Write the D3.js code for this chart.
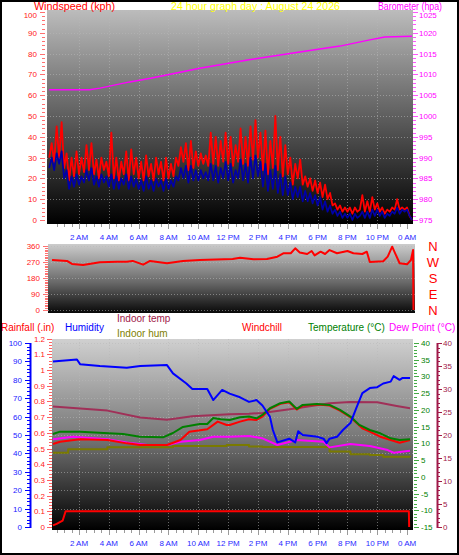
<!DOCTYPE html>
<html><head><meta charset="utf-8">
<script src="https://cdn.jsdelivr.net/npm/d3@7"></script>
<style>body{margin:0;background:#fff}svg{display:block}text{font-family:"Liberation Sans",Arial,sans-serif}</style>
</head><body><svg id="c" width="459" height="555"></svg>
<script>
// ---------- DATA ----------
const timeTickHours = [2,4,6,8,10,12,14,16,18,20,22,24];
const timeTickLabels = ["2 AM","4 AM","6 AM","8 AM","10 AM","12 PM","2 PM","4 PM","6 PM","8 PM","10 PM","0 AM"];

// wind (kph), one value every 10 minutes from midnight
const windGust = [30,37,28,45,30,47,25,32,19,30, 21,33,22,30,23,36,24,37,22,29,
 20,30,24,28,21,42,20,30,19,28, 22,33,19,34,22,30,20,28,19,31,
 21,27,19,30,22,28,19,30,20,27, 21,30,26,35,28,37,24,38,25,33,
 26,32,27,31,26,42,27,40,26,38, 28,42,27,40,26,36,28,44,27,40,
 26,45,29,48,30,42,24,43,22,38, 25,50,24,40,21,36,22,30,17,27,
 20,29,17,21,16,20,14,19,13,18, 11,17,10,13,7,8,5,7,4,6,
 4,6,3,6,4,5,12,4,9,4, 11,5,8,4,6,3,5,4,6,5, 10,5,6,5,6,2,0];
const windAvg = [25,30,24,32,27,33,20,24,15,21, 16,22,17,21,18,24,19,25,17,21,
 16,22,18,21,16,22,15,21,15,20, 17,22,15,21,16,20,15,19,14,21,
 15,19,14,20,16,19,14,20,15,19, 16,21,19,25,20,26,18,26,19,24,
 19,24,20,23,19,27,19,26,18,25, 20,28,19,27,18,24,20,29,19,27,
 18,30,20,31,21,28,16,27,14,24, 15,26,13,22,12,21,12,18,10,16,
 11,16,9,14,9,13,8,12,7,11, 5,9,4,7,3,5,2,4,1,3,
 1,3,0,3,1,2,4,1,4,1, 5,2,5,2,4,1,3,2,4,3, 6,3,5,4,5,2,0];
const windTicks = [0,10,20,30,40,50,60,70,80,90,100];

const baroHours = [0,2.7,3.4,5.4,6.8,10.1,13.4,16.8,19.5,21.5,22.5,24.33];
const baroValues = [1006.3,1006.3,1006.7,1008.2,1009.1,1011.5,1013.5,1015.4,1016.8,1018.3,1019.0,1019.2];
const baroTicks = [975,980,985,990,995,1000,1005,1010,1015,1020,1025];

const dirHours = [0.19,1.19,1.53,2.27,3.4,4.55,5.2,5.6,6.3,6.76,7.9,8.97,10.1,12.3,12.8,13.7,14.6,15.3,15.7,16.2,16.5,16.8,17.3,17.6,17.8,18.2,18.5,18.8,19.3,20.0,20.4,21.0,21.3,21.5,22.4,22.7,23.0,23.2,23.5,24.0,24.26,24.4,24.43];
const dirValues = [281,276,259,253,268,272,272,276,255,276,263,276,281,287,294,285,287,300,319,319,347,324,315,332,307,328,315,337,319,332,319,315,328,270,274,300,356,319,263,257,281,337,0];
const dirTicks = [0,90,180,270,360];
const dirLetters = ["N","E","S","W","N"];

const humHours = [0.25,1.86,2.07,3.4,5.2,6.1,7.9,8.3,9.2,9.6,10.6,11.0,11.6,12.1,12.8,13.4,13.9,14.3,14.8,15.0,15.3,16.1,16.5,16.7,17.0,18.0,18.4,18.6,18.8,19.3,19.7,20.2,20.6,21.0,21.5,22.0,22.4,22.9,23.1,23.5,23.7,24.2];
const humValues = [90,91,88.5,87.5,86.5,87.5,88,83.5,78,75,75,69,74.5,72.5,70.5,68,69,66,60,52.7,46,48,46,52,50,49,48,45.6,48,49,52.7,56.5,64.7,72.8,75.5,76,78,79,82,80,81,81];

const tempHours = [0.25,0.73,2.07,4.95,6.09,7.63,8.3,8.97,10.1,10.6,11.0,11.5,12.1,12.8,13.4,13.9,14.3,14.8,15.5,16.1,16.6,17.0,17.96,18.8,19.5,20.2,20.8,21.5,22.2,22.9,23.5,24.2];
const tempValues = [12.8,13.5,13.5,12.8,12.0,11.8,13.1,14.9,15.8,15.8,17.6,17.2,17.0,17.8,18,17.5,18.5,20.5,22,22.5,20.3,21.5,21.8,21.5,20,18,15.5,14,13,11.5,11,11.2];

const chillHours = [0.25,0.73,2.07,3.9,5.2,6.1,7.9,8.8,9.4,10.6,11.3,11.9,12.1,12.8,13.4,13.9,14.3,14.8,15.5,16.1,16.6,17.0,17.96,18.8,19.5,20.2,20.8,21.0,21.5,22.2,22.9,23.5,24.2];
const chillValues = [9.8,10.5,11.2,11,10,9.5,9.5,11,13.5,14.2,16.5,15.5,15.5,16.5,17.2,17,18,20.3,21.8,22.3,20.1,21.3,21.6,21.3,19.8,17.8,15.3,14.5,13.5,12,11,10.2,11];

const dewHours = [0.25,1.6,3.9,5.6,6.6,7.9,8.8,10.1,11.0,11.9,12.1,13.4,14.3,15.3,16.6,18.4,18.8,20.2,21.5,22.7,23.1,24.2];
const dewValues = [11.2,12,11.2,10,9.5,9.5,10.5,11,12,12,12,12.2,11.5,9.5,11,10.5,8.8,9.8,9.2,8,7.2,7.8];

const inTempHours = [0.25,3.9,6.1,7.9,9.6,12.1,13.4,14.3,16.6,18.8,20.2,22.0,23.3,24.2];
const inTempValues = [26.2,25.3,23.8,23.3,24.1,24.5,24.6,24.8,25.8,26.9,27.2,27.1,26.3,25.8];

const inHumHours = [0.25,1.2,1.27,3.9,6.1,8.3,11.0,11.9,13.4,14.3,16.6,18.8,20.2,21.5,22.4,24.2];
const inHumValues = [40.4,40.4,42.2,43.3,43.3,44,44,44.6,43.8,43.5,43.5,41,39.5,39.1,38.2,38];

const rainHours = [0.25,0.5,0.9,1.1,24.12,24.14];
const rainValues = [0.01,0.02,0.04,0.1,0.1,0];

const humTicks = [0,10,20,30,40,50,60,70,80,90,100];
const rainTicks = [0,0.1,0.2,0.3,0.4,0.5,0.6,0.7,0.8,0.9,1,1.1,1.2];
const tempTicks = [-15,-10,-5,0,5,10,15,20,25,30,35,40];
const inTempTicks = [0,5,10,15,20,25,30,35,40];

// ---------- DRAW ----------
const svg = d3.select("#c");
const W = 459, H = 555;
const x = d3.scaleLinear().domain([0, 24.33]).range([49.2, 412]);
const defs = svg.append("defs");
function grad(id, stops){
  const g = defs.append("linearGradient").attr("id", id).attr("x1",0).attr("y1",0).attr("x2",0).attr("y2",1);
  stops.forEach(s => g.append("stop").attr("offset", s[0]).attr("stop-color", s[1]));
}
grad("g1", [[0,"#bcbcbc"],[0.5,"#5e5e5e"],[1,"#000"]]);
grad("g2", [[0,"#cccccc"],[0.55,"#6a6a6a"],[1,"#080808"]]);
grad("g3", [[0,"#d0d0d0"],[0.5,"#7a7a7a"],[1,"#000"]]);

svg.append("rect").attr("width",W).attr("height",H).attr("fill","#fff");

function txt(s, xx, yy, color, size, anchor){
  return svg.append("text").attr("x",xx).attr("y",yy).attr("fill",color)
    .attr("font-size",size).attr("text-anchor",anchor||"start").text(s);
}
function hgrid(y, vals, x0, x1){
  svg.append("g").selectAll("line").data(vals).join("line")
    .attr("x1",x0).attr("x2",x1).attr("y1",d=>Math.round(y(d))+0.5).attr("y2",d=>Math.round(y(d))+0.5)
    .attr("stroke","#b8b8b8").attr("stroke-opacity",0.55).attr("stroke-dasharray","1,2");
}
function vgrid(y0, y1){
  svg.append("g").selectAll("line").data(timeTickHours.slice(0,-1)).join("line")
    .attr("x1",d=>Math.round(x(d))+0.5).attr("x2",d=>Math.round(x(d))+0.5).attr("y1",y0).attr("y2",y1)
    .attr("stroke","#b8b8b8").attr("stroke-opacity",0.55).attr("stroke-dasharray","1,2");
}
function timeAxis(yTop, yLabel){
  const minor = d3.range(0.5, 24.33, 0.5);
  svg.append("g").selectAll("line").data(minor).join("line")
    .attr("x1",d=>Math.round(x(d))+0.5).attr("x2",d=>Math.round(x(d))+0.5)
    .attr("y1",yTop).attr("y2",d=>yTop+(d%2===0?5:3)).attr("stroke","#9a9a9a");
  svg.append("g").selectAll("text").data(timeTickHours).join("text")
    .attr("x",d=>x(d)).attr("y",yLabel).attr("text-anchor","middle")
    .attr("fill","#2a2aff").attr("font-size",8).text((d,i)=>timeTickLabels[i]);
}
function ticksCol(y, minorVals, majorVals, xAxis, dir, color, minLen, majLen){
  const g = svg.append("g");
  g.selectAll("line.mi").data(minorVals).join("line")
    .attr("x1",xAxis).attr("x2",xAxis+dir*minLen)
    .attr("y1",d=>Math.round(y(d))+0.5).attr("y2",d=>Math.round(y(d))+0.5).attr("stroke",color);
  g.selectAll("line.ma").data(majorVals).join("line")
    .attr("x1",xAxis).attr("x2",xAxis+dir*majLen)
    .attr("y1",d=>Math.round(y(d))+0.5).attr("y2",d=>Math.round(y(d))+0.5).attr("stroke",color);
}
function labels(y, vals, xx, anchor, color, fmt){
  svg.append("g").selectAll("text").data(vals).join("text")
    .attr("x",xx).attr("y",d=>y(d)+3).attr("text-anchor",anchor)
    .attr("fill",color).attr("font-size",8).text(fmt||(d=>d));
}
function path(hours, vals, y, color, w, curve){
  const line = d3.line().x((d,i)=>x(hours[i])).y(d=>y(d));
  if (curve) line.curve(curve);
  svg.append("path").datum(vals).attr("d",line).attr("fill","none")
    .attr("stroke",color).attr("stroke-width",w).attr("stroke-linejoin","round");
}

// ---- TOP CHART ----
const yW = d3.scaleLinear().domain([0,100]).range([220,12]);
const yB = d3.scaleLinear().domain([975,1025]).range([220,12]);
svg.append("rect").attr("x",47).attr("y",10).attr("width",366).attr("height",214).attr("fill","url(#g1)");
hgrid(yW, windTicks.slice(1), 47, 413);
vgrid(10, 224);
ticksCol(yW, d3.range(0,101,2), windTicks, 45, -1, "#ff7070", 3, 5);
labels(yW, windTicks.slice(0,-1), 37, "end", "#ff2020");
ticksCol(yB, d3.range(975,1026,1), baroTicks, 413, 1, "#ff55ff", 3, 5);
labels(yB, baroTicks.slice(0,-1), 419, "start", "#ff00ff");
txt(windTicks[windTicks.length-1], 37, yW(100)+6, "#ff2020", 8, "end");
txt(baroTicks[baroTicks.length-1], 419, yB(1025)+6, "#ff00ff", 8);
timeAxis(224, 240);
const windHours = windGust.map((d,i)=>i/6);
path(windHours, windGust, yW, "#ff0000", 1.8);
path(windHours, windAvg, yW, "#0000a8", 1.7);
path(baroHours, baroValues, yB, "#ff00ff", 1.5);

// ---- headers ----
svg.append("rect").attr("x",2).attr("y",2).attr("width",W-4).attr("height",8).attr("fill","#fff");
txt("Windspeed (kph)", 34, 9.5, "#ff0000", 11).attr("textLength",81).attr("lengthAdjust","spacingAndGlyphs");
txt("24 hour graph day : August 24 2026", 171, 9.5, "#ffff00", 11).attr("textLength",169).attr("lengthAdjust","spacingAndGlyphs");
txt("Barometer (hpa)", 378, 9.5, "#ff00ff", 11).attr("textLength",64).attr("lengthAdjust","spacingAndGlyphs");

// ---- MIDDLE CHART ----
const yD = d3.scaleLinear().domain([0,360]).range([310,246]);
svg.append("rect").attr("x",48).attr("y",244).attr("width",367).attr("height",69).attr("fill","url(#g2)");
hgrid(yD, dirTicks, 48, 415);
ticksCol(yD, d3.range(0,361,10), dirTicks, 48, -1, "#ff7070", 3, 5);
labels(yD, dirTicks, 40, "end", "#ff2020");
svg.append("g").selectAll("text").data(dirTicks).join("text")
  .attr("x",433).attr("y",d=>yD(d)+5).attr("text-anchor","middle")
  .attr("fill","#ff0000").attr("font-size",13).text((d,i)=>dirLetters[i]);
path(dirHours, dirValues, yD, "#ff0000", 2);

// ---- bottom headers ----
txt("Rainfall (.in)", 1, 331, "#ff0000", 10);
txt("Humidity", 65, 331, "#0000ff", 10);
txt("Indoor temp", 117, 322, "#a01848", 10);
txt("Indoor hum", 117, 337, "#808000", 10);
txt("Windchill", 242, 331, "#ff0000", 10);
txt("Temperature (°C)", 308, 331, "#008000", 10);
txt("Dew Point (°C)", 389, 331, "#ff00ff", 10);

// ---- BOTTOM CHART ----
const yH = d3.scaleLinear().domain([0,100]).range([527,343]);
const yR = d3.scaleLinear().domain([0,1.2]).range([527,338.6]);
const yT = d3.scaleLinear().domain([-15,40]).range([527,343]);
const yI = d3.scaleLinear().domain([0,40]).range([527,343]);
svg.append("rect").attr("x",52).attr("y",339).attr("width",361).attr("height",191).attr("fill","url(#g3)");
hgrid(yH, humTicks.slice(1), 52, 413);
vgrid(339, 530);
svg.append("line").attr("x1",30.5).attr("x2",30.5).attr("y1",yH(100)).attr("y2",yH(0)+1).attr("stroke","#0000ff").attr("stroke-width",2);
ticksCol(yH, d3.range(0,101,2), humTicks, 30, -1, "#0000ff", 3, 5);
labels(yH, humTicks, 22, "end", "#2020ff");
ticksCol(yR, d3.range(0,1.21,0.02), rainTicks, 52, -1, "#ff6060", 3, 5);
labels(yR, rainTicks, 45, "end", "#ff2020", d=>d3.format("~g")(+d.toFixed(1)));
ticksCol(yT, d3.range(-15,41,1), tempTicks, 414, 1, "#44aa44", 3, 5);
labels(yT, tempTicks, 421, "start", "#008000");
svg.append("line").attr("x1",437.5).attr("x2",437.5).attr("y1",yI(40)).attr("y2",yI(0)+1).attr("stroke","#a01848").attr("stroke-width",2);
ticksCol(yI, d3.range(0,41,1), inTempTicks, 438, 1, "#a01848", 2, 4);
labels(yI, inTempTicks, 443, "start", "#a01848");
timeAxis(530, 546);

path(inTempHours, inTempValues, yI, "#a03058", 2);
path(inHumHours, inHumValues, yH, "#7a7a00", 2, d3.curveStepAfter);
path(dewHours, dewValues, yT, "#ff00ff", 2);
path(chillHours, chillValues, yT, "#ff0000", 2);
path(tempHours, tempValues, yT, "#008000", 2);
path(humHours, humValues, yH, "#0000ff", 2);
path(rainHours, rainValues, yR, "#ff0000", 2);

// border
svg.append("rect").attr("x",1).attr("y",1).attr("width",W-2).attr("height",H-2)
  .attr("fill","none").attr("stroke","#000").attr("stroke-width",2);
</script></body></html>
